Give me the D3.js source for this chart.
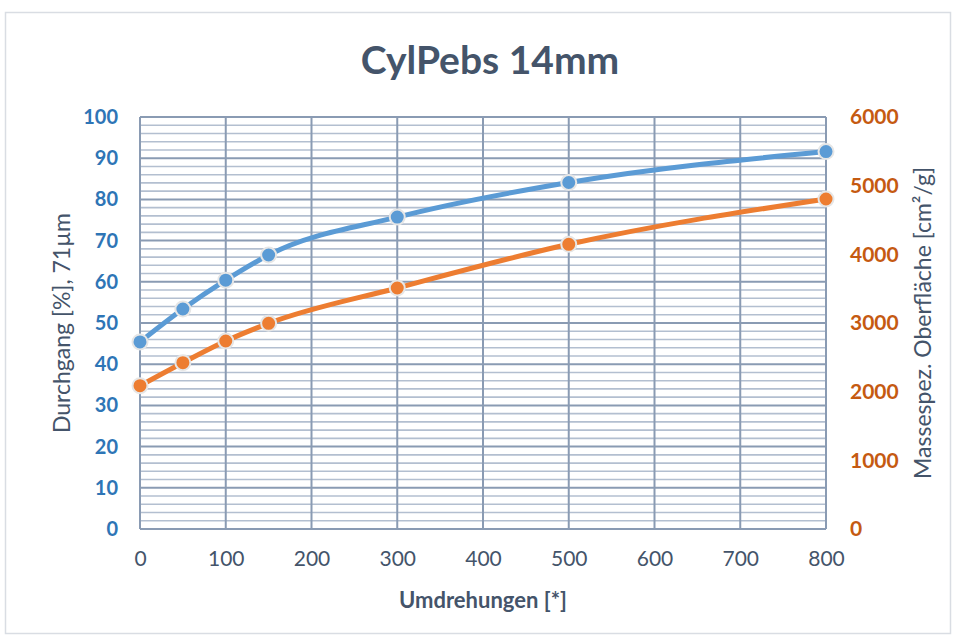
<!DOCTYPE html>
<html><head><meta charset="utf-8">
<script src="https://cdn.jsdelivr.net/npm/d3@7"></script>
<style>html,body{margin:0;padding:0;background:#fff;}svg{display:block;}</style>
</head><body>
<svg id="chart" width="957" height="637"></svg>
<script>
const title = "CylPebs 14mm";
const xTitle = "Umdrehungen [*]";
const yLeftTitle = "Durchgang [%], 71µm";
const yRightTitle = "Massespez. Oberfläche [cm²/g]";
const revolutions = [0, 50, 100, 150, 300, 500, 800];
const durchgang = [45.4, 53.4, 60.4, 66.5, 75.7, 84.1, 91.6];
const oberflaeche = [2087, 2422, 2738, 2995, 3510, 4146, 4806];
const xTicks = [0, 100, 200, 300, 400, 500, 600, 700, 800];
const yLeftTicks = [0, 10, 20, 30, 40, 50, 60, 70, 80, 90, 100];
const yRightTicks = [0, 1000, 2000, 3000, 4000, 5000, 6000];
const yMinorTicks = d3.range(0, 101, 2);

const svg = d3.select("#chart");
const font = "Lato, 'Open Sans', sans-serif";
const L = 140, R = 826, T = 117, B = 529;

svg.append("rect").attr("x", 5.5).attr("y", 12.5).attr("width", 945).attr("height", 621)
  .attr("fill", "#fff").attr("stroke", "#d9dde3").attr("stroke-width", 1.5);

const x = d3.scaleLinear().domain([0, 800]).range([L, R]);
const yL = d3.scaleLinear().domain([0, 100]).range([B, T]);
const yR = d3.scaleLinear().domain([0, 6000]).range([B, T]);

const grid = svg.append("g");
grid.selectAll(".minor").data(yMinorTicks.filter(d => d % 10 !== 0)).join("line")
  .attr("x1", L).attr("x2", R).attr("y1", d => yL(d)).attr("y2", d => yL(d))
  .attr("stroke", "#b3bfd0").attr("stroke-width", 1.6);
grid.selectAll(".major").data(yLeftTicks).join("line")
  .attr("x1", L).attr("x2", R).attr("y1", d => yL(d)).attr("y2", d => yL(d))
  .attr("stroke", "#8a9bb3").attr("stroke-width", 2);
grid.selectAll(".vert").data(xTicks).join("line")
  .attr("x1", d => x(d)).attr("x2", d => x(d)).attr("y1", T).attr("y2", B)
  .attr("stroke", "#8a9bb3").attr("stroke-width", 2);

// axes (text only)
const axL = svg.append("g").attr("transform", `translate(${L},0)`)
  .call(d3.axisLeft(yL).tickValues(yLeftTicks).tickSize(0).tickPadding(22));
const axR = svg.append("g").attr("transform", `translate(${R},0)`)
  .call(d3.axisRight(yR).tickValues(yRightTicks).tickFormat(d3.format("d")).tickSize(0).tickPadding(24));
const axB = svg.append("g").attr("transform", `translate(0,${B})`)
  .call(d3.axisBottom(x).tickValues(xTicks).tickSize(0).tickPadding(22));
[axL, axR, axB].forEach(a => a.select(".domain").remove());
axL.selectAll("text").attr("font-family", font).attr("font-size", 20).attr("font-weight", "bold").attr("fill", "#2e75b6");
axR.selectAll("text").attr("font-family", font).attr("font-size", 21).attr("font-weight", "bold").attr("fill", "#c55a11");
axB.selectAll("text").attr("font-family", font).attr("font-size", 21).attr("fill", "#44546a");

// series
const line = d3.line().curve(d3.curveMonotoneX);
const ptsB = revolutions.map((r, i) => [x(r), yL(durchgang[i])]);
const ptsO = revolutions.map((r, i) => [x(r), yR(oberflaeche[i])]);
svg.append("path").attr("d", line(ptsB)).attr("fill", "none").attr("stroke", "#5b9bd5").attr("stroke-width", 5).attr("stroke-linecap", "round");
svg.append("path").attr("d", line(ptsO)).attr("fill", "none").attr("stroke", "#ed7d31").attr("stroke-width", 5).attr("stroke-linecap", "round");
svg.selectAll(".mb").data(ptsB).join("circle").attr("cx", d => d[0]).attr("cy", d => d[1]).attr("r", 7.5)
  .attr("fill", "#5b9bd5").attr("stroke", "#e6e6e6").attr("stroke-width", 2);
svg.selectAll(".mo").data(ptsO).join("circle").attr("cx", d => d[0]).attr("cy", d => d[1]).attr("r", 7.5)
  .attr("fill", "#ed7d31").attr("stroke", "#e6e6e6").attr("stroke-width", 2);

// titles
svg.append("text").attr("x", 490).attr("y", 74).attr("text-anchor", "middle")
  .attr("font-family", font).attr("font-size", 39).attr("font-weight", "bold").attr("fill", "#44546a").text(title);
svg.append("text").attr("x", 483).attr("y", 608).attr("text-anchor", "middle")
  .attr("font-family", font).attr("font-size", 22).attr("font-weight", "bold").attr("fill", "#44546a").text(xTitle);
svg.append("text").attr("transform", `translate(70,${(T + B) / 2}) rotate(-90)`).attr("text-anchor", "middle")
  .attr("font-family", font).attr("font-size", 23).attr("fill", "#44546a").text(yLeftTitle);
svg.append("text").attr("transform", `translate(931,${(T + B) / 2}) rotate(-90)`).attr("text-anchor", "middle")
  .attr("font-family", font).attr("font-size", 23).attr("fill", "#44546a").text(yRightTitle);
</script>
</body></html>
